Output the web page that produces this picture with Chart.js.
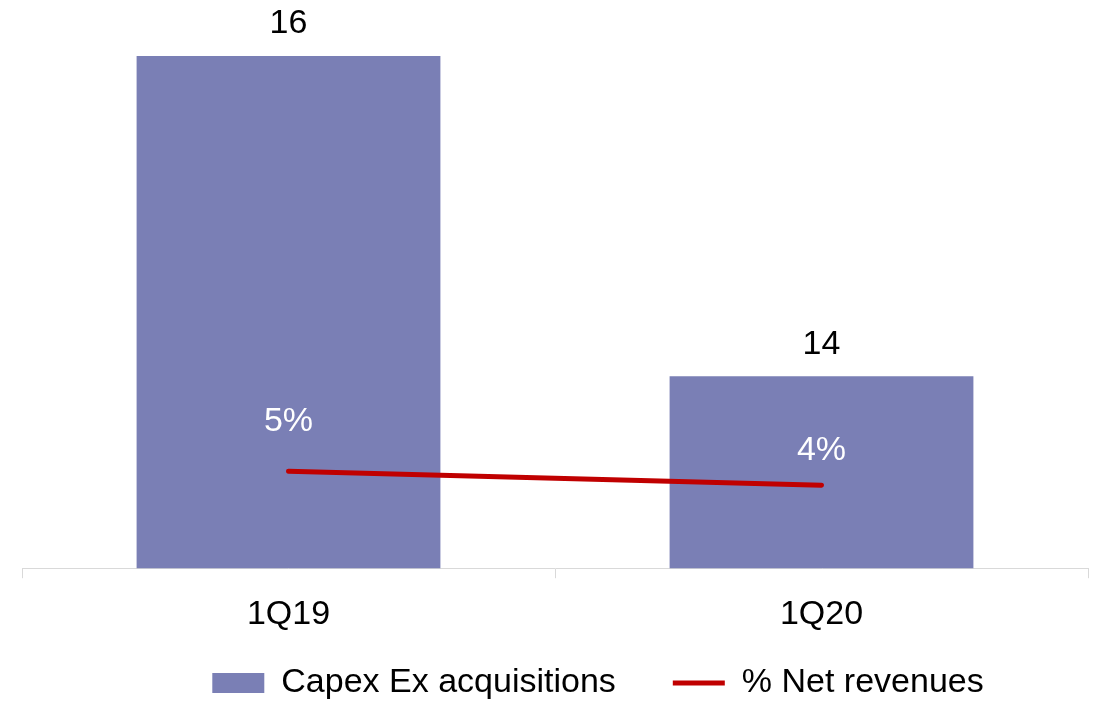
<!DOCTYPE html>
<html>
<head>
<meta charset="utf-8">
<script src="https://cdn.jsdelivr.net/npm/chart.js@4/dist/chart.umd.min.js"></script>
<style>
  html, body { margin: 0; padding: 0; background: #fff; }
  #wrap { width: 1100px; height: 703px; }
</style>
</head>
<body>
<div id="wrap"><canvas id="capexChart"></canvas></div>
<script>
// datos del gráfico
const categories = ['1Q19', '1Q20'];
const capexValues = [16, 14];
const netRevPct = [5, 4];
const seriesNames = ['Capex Ex acquisitions', '% Net revenues'];

const BAR_COLOR = '#7A7FB5';
const LINE_COLOR = '#C00000';
const FONT = '"Liberation Sans", Arial, sans-serif';
const FONT_SIZE = 34;

// etiquetas de valores (dataset 0 = barras, 1 = línea)
const labelLift = [50, 35];
const valueLabels = {
  id: 'valueLabels',
  afterDatasetsDraw(chart) {
    const ctx = chart.ctx;
    ctx.save();
    ctx.font = FONT_SIZE + 'px ' + FONT;
    ctx.textAlign = 'center';
    ctx.textBaseline = 'middle';
    chart.getDatasetMeta(0).data.forEach((bar, i) => {
      ctx.fillStyle = '#000';
      ctx.fillText(capexValues[i], bar.x, bar.y - 32);
    });
    chart.getDatasetMeta(1).data.forEach((pt, i) => {
      ctx.fillStyle = '#fff';
      ctx.fillText(netRevPct[i] + '%', pt.x, pt.y - labelLift[i]);
    });
    ctx.restore();
  }
};

// mover la leyenda (a la derecha y arriba), sin recortarla
const legendShift = {
  id: 'legendShift',
  afterLayout(chart) {
    const lg = chart.legend;
    lg.left += 43; lg.right += 43;
    lg.top -= 42;
    lg.bottom = chart.height;
  }
};

const ctx = document.getElementById('capexChart').getContext('2d');
new Chart(ctx, {
  data: {
    labels: categories,
    datasets: [
      {
        type: 'bar',
        label: seriesNames[0],
        data: capexValues,
        yAxisID: 'y',
        backgroundColor: BAR_COLOR,
        barPercentage: 0.57,
        categoryPercentage: 1,
        order: 1
      },
      {
        type: 'line',
        label: seriesNames[1],
        data: netRevPct,
        yAxisID: 'y2',
        borderColor: LINE_COLOR,
        backgroundColor: LINE_COLOR,
        borderWidth: 5,
        borderCapStyle: 'round',
        pointRadius: 0,
        order: 0
      }
    ]
  },
  options: {
    responsive: true,
    maintainAspectRatio: false,
    animation: false,
    layout: { padding: { left: 22, right: 12, top: 0, bottom: 0 } },
    plugins: {
      tooltip: { enabled: false },
      legend: {
        position: 'bottom',
        maxHeight: 52,
        labels: {
          font: { family: FONT, size: FONT_SIZE },
          color: '#000',
          usePointStyle: true,
          pointStyleWidth: 52,
          boxHeight: 20,
          padding: 57,
          generateLabels: () => [
            { text: seriesNames[0], pointStyle: 'rect', fillStyle: BAR_COLOR, strokeStyle: BAR_COLOR, lineWidth: 0, datasetIndex: 0 },
            { text: seriesNames[1], pointStyle: 'line', fillStyle: LINE_COLOR, strokeStyle: LINE_COLOR, lineWidth: 5, datasetIndex: 1 }
          ]
        }
      }
    },
    scales: {
      x: {
        grid: { display: true, drawOnChartArea: false, color: '#D9D9D9', tickLength: 10, offset: true },
        border: { color: '#D9D9D9', width: 1 },
        ticks: { font: { family: FONT, size: FONT_SIZE }, color: '#000', padding: 16 }
      },
      y: { display: false, min: 12.8, max: 16.35 },
      y2: { display: false, min: -1.93, max: 38.64 }
    }
  },
  plugins: [valueLabels, legendShift]
});
</script>
</body>
</html>
